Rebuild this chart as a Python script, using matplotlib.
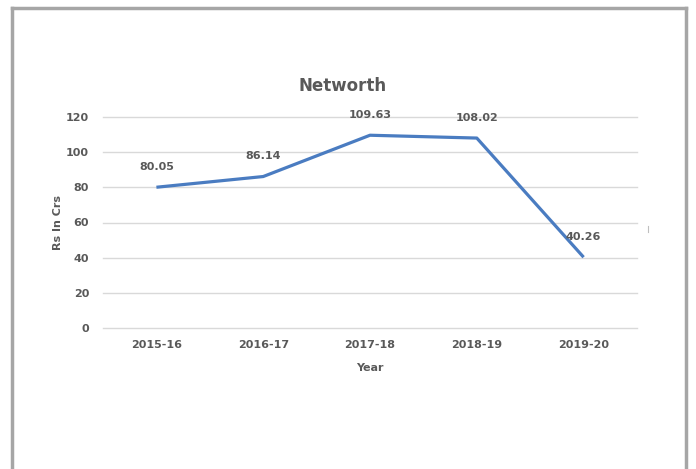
import matplotlib
matplotlib.use("Agg")
import matplotlib.pyplot as plt
from matplotlib.lines import Line2D

years = ["2015-16", "2016-17", "2017-18", "2018-19", "2019-20"]
networth = [80.05, 86.14, 109.63, 108.02, 40.26]
yticks = [0, 20, 40, 60, 80, 100, 120]

grey = "#595959"

fig = plt.figure(figsize=(6.96, 4.69), dpi=100)
ax = fig.add_axes([103 / 696, 1 - 328 / 469, 534 / 696, 211 / 469])

x = list(range(len(years)))
ax.plot(x, networth, color="#4a7cc1", lw=2.3, solid_capstyle="butt", zorder=3)
for xi, v in zip(x, networth):
    ax.annotate(f"{v:.2f}", (xi, v), xytext=(0, 11), textcoords="offset points",
                ha="center", va="bottom", fontsize=8, fontweight="bold", color=grey)

ax.set_xlim(-0.5, len(years) - 0.5)
ax.set_ylim(0, 120)
ax.set_yticks(yticks)
ax.set_xticks(x)
ax.set_xticklabels(years)
ax.grid(axis="y", color="#d9d9d9", lw=1)
for gl in ax.get_ygridlines():
    gl.set_clip_on(False)
ax.set_axisbelow(True)
for s in ax.spines.values():
    s.set_visible(False)
ax.tick_params(length=0, labelsize=8, labelcolor=grey, pad=10)
ax.tick_params(axis="x", pad=9)
for lab in ax.get_xticklabels() + ax.get_yticklabels():
    lab.set_fontweight("bold")

ax.set_ylabel("Rs In Crs", fontsize=8, fontweight="bold", color=grey, labelpad=2)
ax.set_xlabel("Year", fontsize=8, fontweight="bold", color=grey, labelpad=9)
fig.text(343 / 696, 1 - 86 / 469, "Networth", ha="center", va="center",
         fontsize=12, fontweight="bold", color=grey)

# grey frame around the chart (bottom edge is cut off)
fc = "#a6a6a6"
fig.add_artist(Line2D([11.5 / 696, 11.5 / 696], [0, 1 - 8.5 / 469], color=fc, lw=2.5, transform=fig.transFigure))
fig.add_artist(Line2D([11.5 / 696, 685.5 / 696], [1 - 8.5 / 469, 1 - 8.5 / 469], color=fc, lw=2.5, transform=fig.transFigure))
fig.add_artist(Line2D([685.5 / 696, 685.5 / 696], [0, 1 - 8.5 / 469], color=fc, lw=2.5, transform=fig.transFigure))
fig.add_artist(Line2D([648 / 696, 648 / 696], [1 - 226 / 469, 1 - 232 / 469], color="#bfbfbf", lw=0.8, transform=fig.transFigure))

fig.savefig("out.png", dpi=100)
